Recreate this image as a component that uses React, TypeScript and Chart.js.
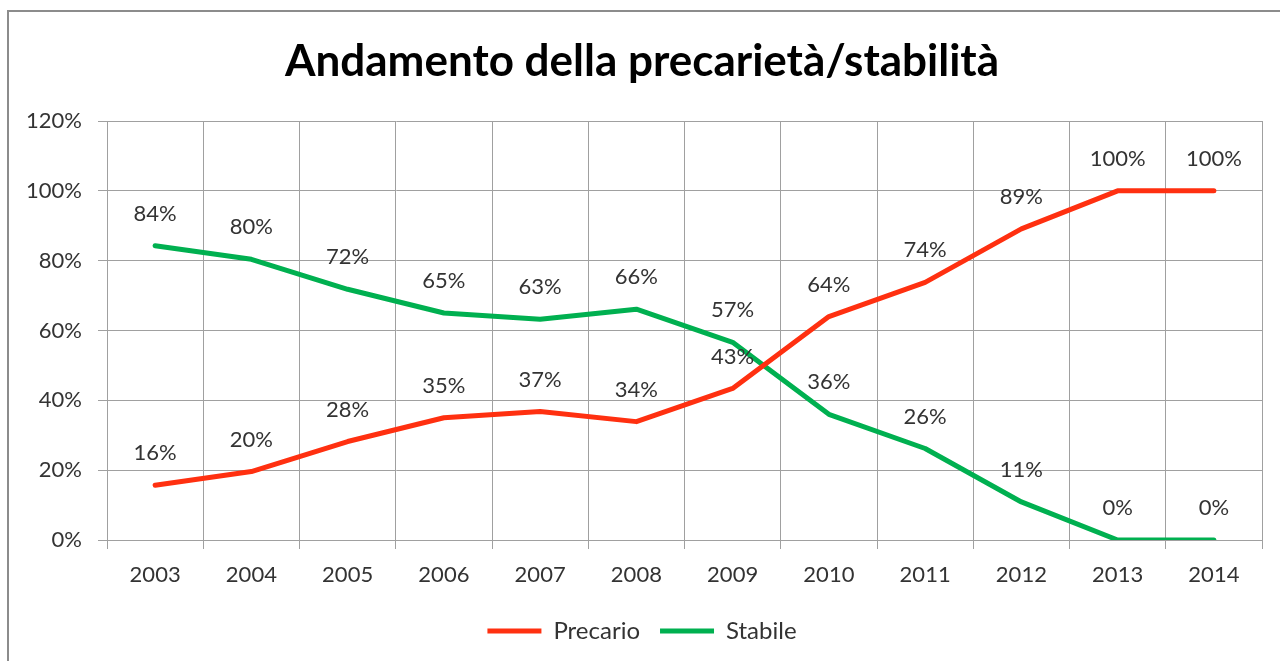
import React, { useEffect, useRef } from "react";
import { Chart, registerables } from "chart.js";

Chart.register(...registerables);

const years = ["2003", "2004", "2005", "2006", "2007", "2008", "2009", "2010", "2011", "2012", "2013", "2014"];
const precario = [15.7, 19.6, 28.2, 35.0, 36.8, 33.9, 43.4, 64.0, 73.8, 89.1, 100, 100];
const stabile = [84.3, 80.4, 71.8, 65.0, 63.2, 66.1, 56.6, 36.0, 26.2, 10.9, 0, 0];
const title = "Andamento della precarietà/stabilità";
const seriesNames = ["Precario", "Stabile"];

const FONT = "Lato, 'Open Sans', sans-serif";
const TEXT = "#333333";
const GRID = "#a0a0a0";

const labelPlugin = {
  id: "pointLabels",
  afterDatasetsDraw(chart: any) {
    const ctx = chart.ctx;
    ctx.save();
    ctx.font = `22px ${FONT}`;
    ctx.fillStyle = TEXT;
    ctx.textAlign = "center";
    ctx.textBaseline = "middle";
    chart.data.datasets.forEach((ds: any, i: number) => {
      const meta = chart.getDatasetMeta(i);
      meta.data.forEach((pt: any, j: number) => {
        const v = ds.data[j];
        ctx.fillText(Math.round(v) + "%", pt.x, pt.y - 32);
      });
    });
    ctx.restore();
  },
};

export default function App() {
  const ref = useRef<HTMLCanvasElement | null>(null);
  useEffect(() => {
    if (!ref.current) return;
    const chart = new Chart(ref.current, {
      type: "line",
      data: {
        labels: years,
        datasets: [
          {
            label: seriesNames[0],
            data: precario,
            borderColor: "#FF3010",
            backgroundColor: "#FF3010",
            borderWidth: 5,
            pointRadius: 0,
            tension: 0,
            borderCapStyle: "round",
            borderJoinStyle: "round",
          },
          {
            label: seriesNames[1],
            data: stabile,
            borderColor: "#00B050",
            backgroundColor: "#00B050",
            borderWidth: 5,
            pointRadius: 0,
            tension: 0,
            borderCapStyle: "round",
            borderJoinStyle: "round",
          },
        ],
      },
      options: {
        animation: false,
        responsive: false,
        maintainAspectRatio: false,
        layout: { padding: { left: 22, right: 18, top: 0, bottom: 8 } },
        plugins: {
          title: {
            display: true,
            text: title,
            color: "#000000",
            font: { family: FONT, size: 44, weight: "bold" },
            padding: { top: 35.6, bottom: 32.6 },
          },
          legend: {
            display: true,
            position: "bottom",
            labels: {
              usePointStyle: true,
              pointStyle: "line",
              pointStyleWidth: 54,
              color: TEXT,
              font: { family: FONT, size: 24 },
              padding: 20,
            },
          },
          tooltip: { enabled: false },
        },
        scales: {
          x: {
            offset: true,
            grid: { offset: true, color: GRID, lineWidth: 1, tickLength: 9, drawTicks: true },
            border: { color: GRID },
            ticks: { color: TEXT, font: { family: FONT, size: 22 }, padding: 13, maxRotation: 0 },
            afterFit(scale: any) {
              scale.height = 59;
            },
          },
          y: {
            min: 0,
            max: 120,
            grid: { color: GRID, lineWidth: 1, tickLength: 9 },
            border: { color: GRID },
            ticks: {
              stepSize: 20,
              color: TEXT,
              font: { family: FONT, size: 22 },
              padding: 16,
              callback: (v: any) => v + "%",
            },
            afterFit(scale: any) {
              scale.width = 85;
            },
          },
        },
      },
      plugins: [labelPlugin],
    });
    return () => chart.destroy();
  }, []);

  return (
    <div style={{ position: "fixed", left: 0, top: 0, width: 1280, height: 661, background: "#fff" }}>
      <div
        style={{
          position: "absolute",
          left: 7,
          top: 10,
          width: 1273,
          height: 651,
          borderTop: "2px solid #8c8c8c",
          borderLeft: "2px solid #8c8c8c",
          boxSizing: "border-box",
        }}
      />
      <canvas ref={ref} width={1280} height={661} style={{ position: "absolute", left: 0, top: 0 }} />
    </div>
  );
}
